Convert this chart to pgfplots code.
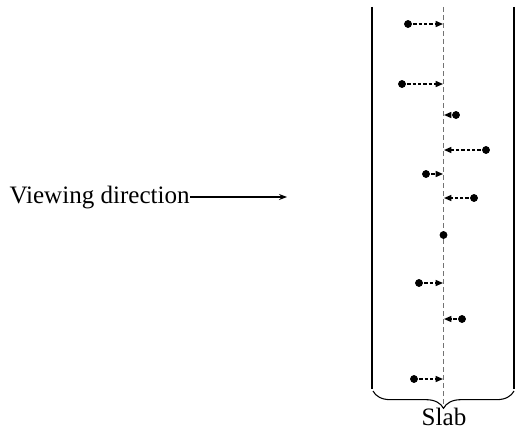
\documentclass[border=0pt]{standalone}
\usepackage{fontspec}
\setmainfont{Liberation Serif}
\usepackage{pgfplots}
\pgfplotsset{compat=1.18}
\usetikzlibrary{arrows.meta,decorations.pathreplacing}
\begin{document}
\begin{tikzpicture}
\begin{axis}[
    hide axis,
    scale only axis,
    width=387pt, height=324.75pt,
    xmin=0, xmax=516, ymin=0, ymax=433,
    clip=false,
]
% frame for the bounding box
\addplot[draw=none] coordinates {(0,0) (516,433)};
% slab walls
\addplot[black, line width=1.4pt] coordinates {(372,426) (372,44)};
\addplot[black, line width=1.4pt] coordinates {(514,426) (514,44)};
% centre plane
\addplot[black!55, line width=1.2pt, dash pattern=on 3.75pt off 2.25pt] coordinates {(443.5,426) (443.5,24)};
% displacements towards the centre plane
\pgfplotsset{disp/.style={black, line width=1pt, dash pattern=on 2.4pt off 1.6pt,
    -{Triangle[length=5.5pt,width=4.5pt]}}}
\addplot[disp] coordinates {(408,409) (443,409)};
\addplot[disp] coordinates {(402,349) (443,349)};
\addplot[disp] coordinates {(456,318) (444,318)};
\addplot[disp] coordinates {(486,283) (444,283)};
\addplot[disp] coordinates {(426,259) (443,259)};
\addplot[disp] coordinates {(474,235) (444,235)};
\addplot[disp] coordinates {(419,150) (443,150)};
\addplot[disp] coordinates {(462,114) (444,114)};
\addplot[disp] coordinates {(414,54) (443,54)};
% particles
\addplot[only marks, mark=*, mark size=2.7pt, black] coordinates {
    (408,409) (402,349) (456,318) (486,283) (426,259)
    (474,235) (443.5,198) (419,150) (462,114) (414,54)
};
% brace and labels
\draw[black, line width=0.8pt, decorate, decoration={brace, mirror, amplitude=13pt}]
    (axis cs:373,42) -- (axis cs:514,42);
\node[anchor=base, font=\fontsize{18.8}{22}\selectfont] at (axis cs:444,8) {Slab};
\node[anchor=base east, inner sep=0pt, font=\fontsize{18.8}{22}\selectfont] at (axis cs:190,230) {Viewing direction};
\draw[black, line width=0.9pt, -{Stealth[length=6pt,width=4.5pt]}] (axis cs:190,236) -- (axis cs:287,236);
\end{axis}
\end{tikzpicture}
\end{document}
